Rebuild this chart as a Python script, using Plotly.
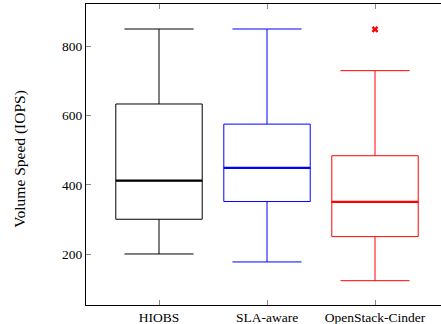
import plotly.graph_objects as go

categories = ["HIOBS", "SLA-aware", "OpenStack-Cinder"]
positions = [1, 2, 3]
colors = ["#000000", "#0000ff", "#ff0000"]
lower_whisker = [201, 178, 124]
q1 = [301, 352, 251]
median = [412, 449, 351]
q3 = [633, 575, 484]
upper_whisker = [849, 849, 729]
outlier_cat = [3]
outlier_val = [848]
y_ticks = [200, 400, 600, 800]

BOX_W = 0.8
FONT = "Liberation Serif"

fig = go.Figure()
for i, name in enumerate(categories):
    fig.add_trace(go.Box(
        x=[positions[i]], q1=[q1[i]], median=[median[i]], q3=[q3[i]],
        lowerfence=[lower_whisker[i]], upperfence=[upper_whisker[i]],
        width=BOX_W, whiskerwidth=0.8, boxpoints=False,
        line=dict(color=colors[i], width=1),
        fillcolor="rgba(0,0,0,0)", name=name, showlegend=False,
        hoverinfo="skip",
    ))
for i, name in enumerate(categories):
    fig.add_trace(go.Scatter(
        x=[positions[i] - BOX_W / 2, positions[i] + BOX_W / 2],
        y=[median[i], median[i]], mode="lines",
        line=dict(color=colors[i], width=2.2), showlegend=False,
        hoverinfo="skip",
    ))
fig.add_trace(go.Scatter(
    x=outlier_cat, y=outlier_val, mode="markers",
    marker=dict(symbol="x", size=6, color="#ff0000", line=dict(width=0)),
    showlegend=False, hoverinfo="skip",
))

fig.update_layout(
    width=441, height=324,
    margin=dict(l=86, r=0, t=4, b=19, pad=0),
    paper_bgcolor="white", plot_bgcolor="white",
    font=dict(family=FONT, size=13.5, color="black"),
    annotations=[dict(
        text="Volume Speed (IOPS)", textangle=-90,
        xref="paper", yref="paper", x=-0.187, y=0.485,
        xanchor="center", yanchor="middle", showarrow=False,
        font=dict(family=FONT, size=15.5, color="black"),
    )],
)
fig.update_xaxes(
    range=[0.324, 3.611], tickvals=positions, ticktext=categories,
    showgrid=False, zeroline=False, showline=True, linecolor="black",
    linewidth=1, mirror="ticks", ticks="inside", ticklen=5,
    tickcolor="#888888", tickfont=dict(family=FONT, size=13.5),
    automargin=False,
)
fig.update_yaxes(
    range=[54, 921], tickvals=y_ticks,
    showgrid=False, zeroline=False, showline=True, linecolor="black",
    linewidth=1, mirror=False, ticks="inside", ticklen=5,
    tickcolor="#888888", tickfont=dict(family=FONT, size=13.5),
    automargin=False,
)

fig.write_html(
    "out.html",
    config={"displayModeBar": False},
    post_script="document.body.style.margin='0';document.body.style.overflow='hidden';",
)
